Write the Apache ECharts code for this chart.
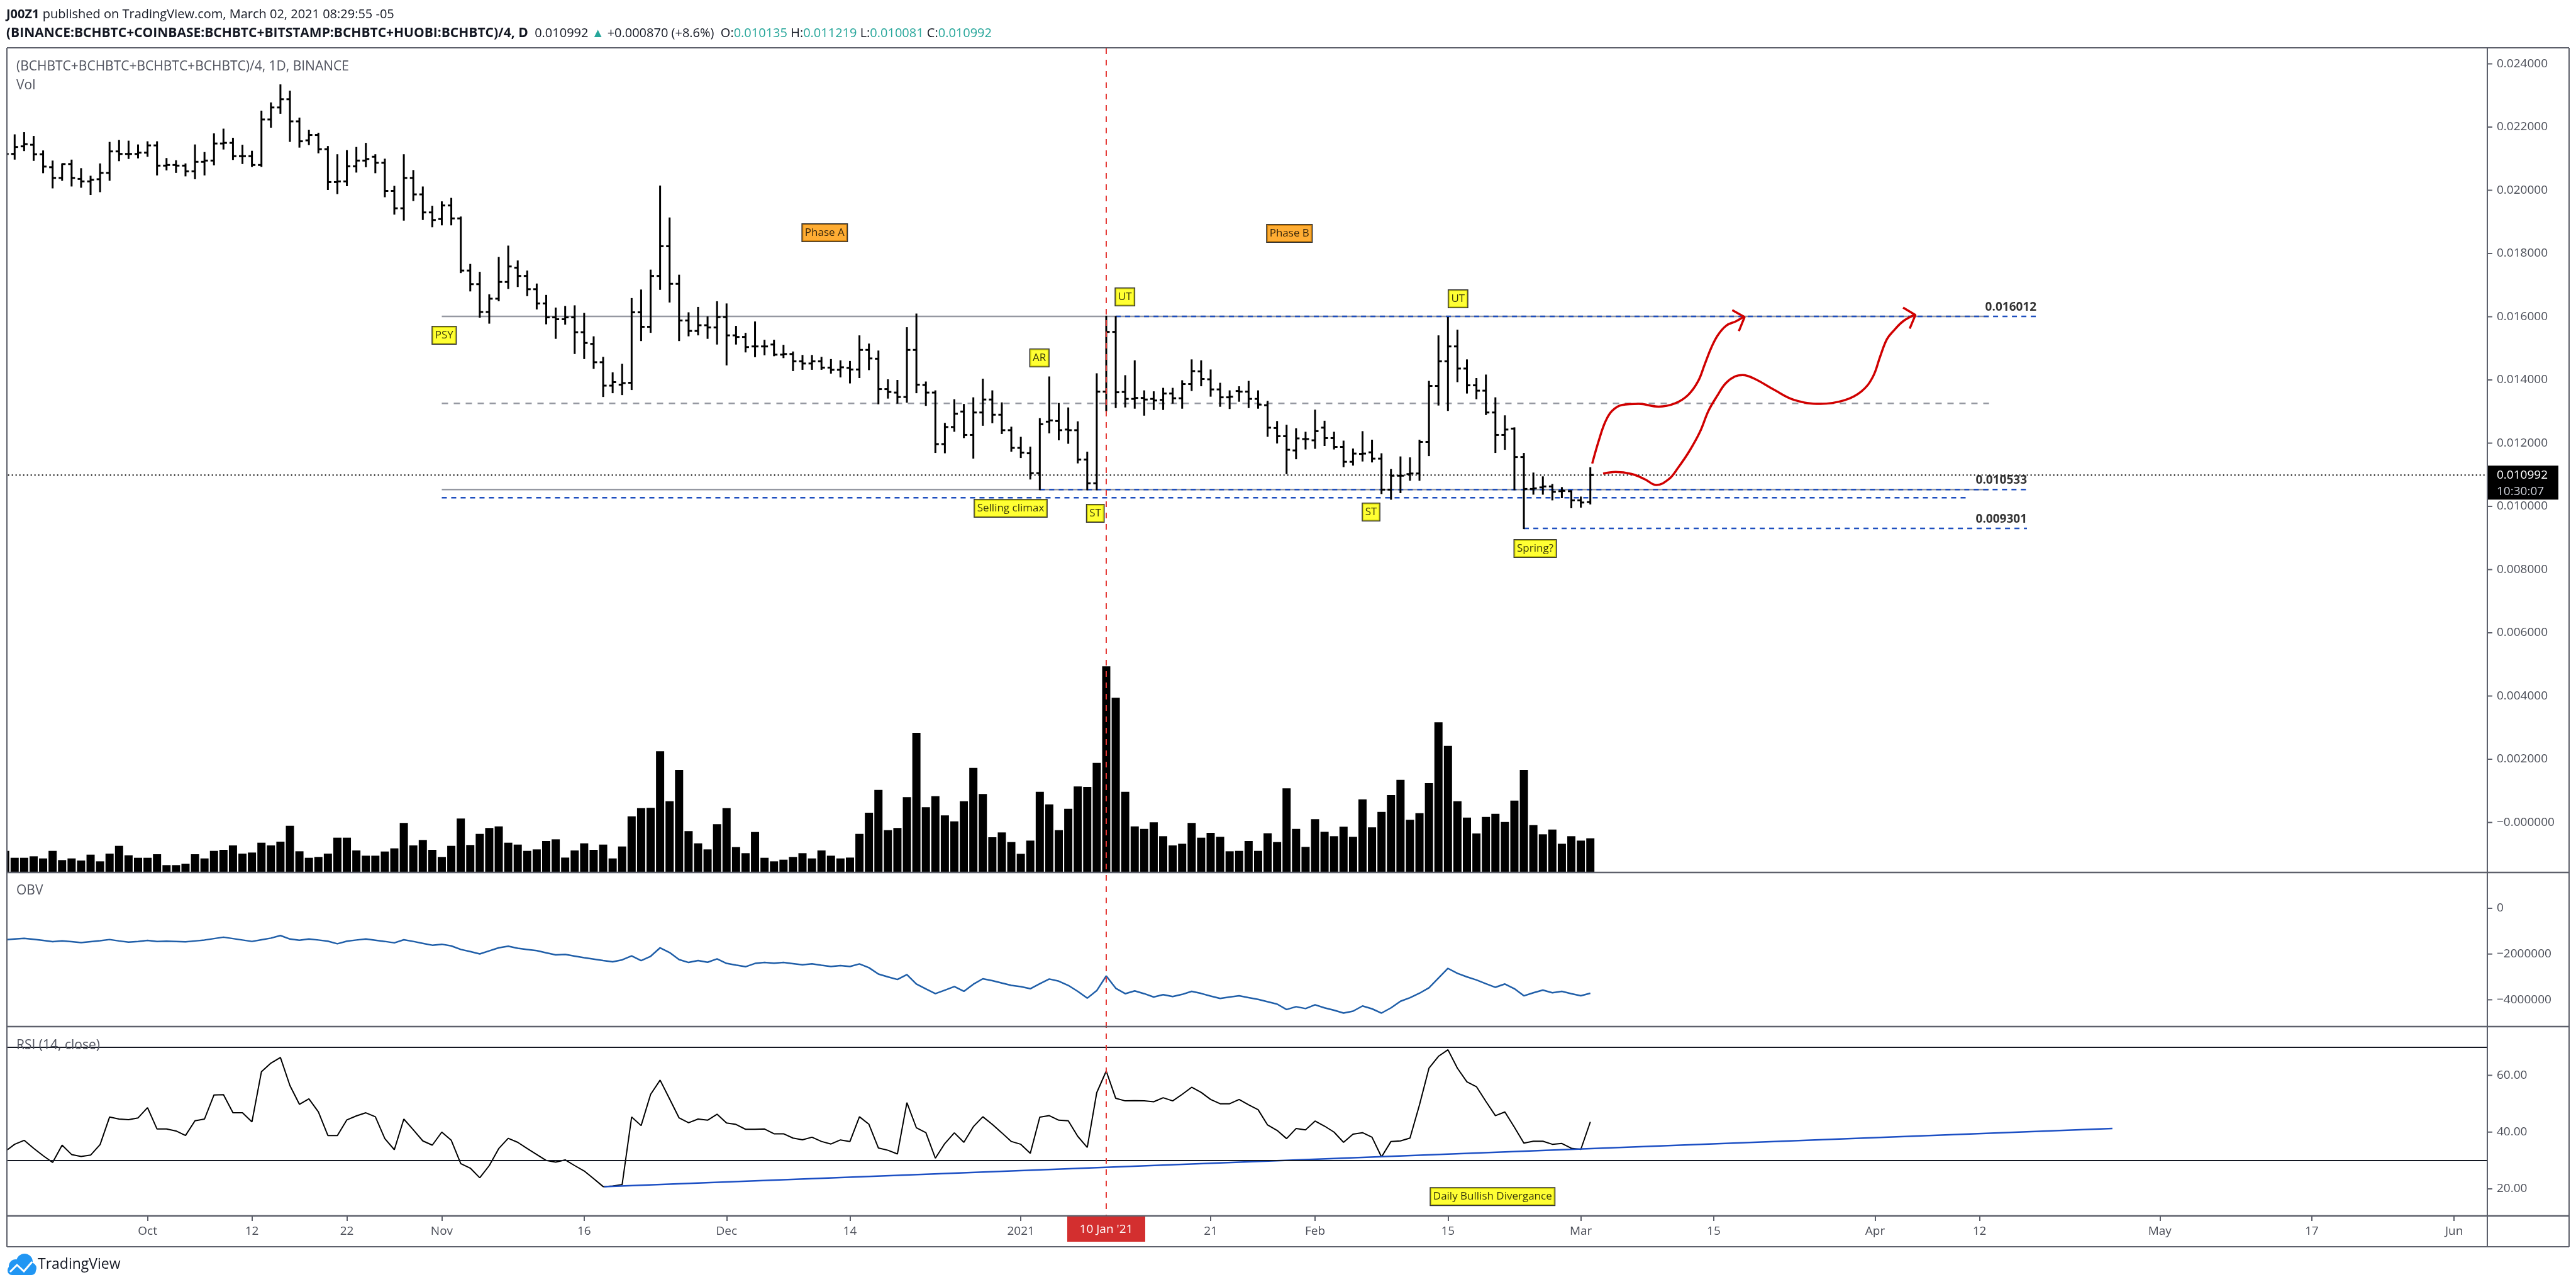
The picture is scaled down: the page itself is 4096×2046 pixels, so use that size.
<!DOCTYPE html>
<html><head><meta charset="utf-8">
<script src="https://cdn.jsdelivr.net/npm/echarts@6/dist/echarts.min.js"></script>
<style>html,body{margin:0;padding:0;background:#fff}#c{width:4096px;height:2046px}</style>
</head><body><div id="c"></div>
<script>
// ---------- DATA ----------
const START_DATE = Date.UTC(2020, 8, 16);   // first daily bar (2020-09-16)
const N_CATEGORIES = 262;                      // visible days on the time axis
const categories = [];
for (let i = 0; i < N_CATEGORIES; i++) categories.push(new Date(START_DATE + i * 86400000).toISOString().slice(0, 10));

const open = [0.02130,0.02115,0.02139,0.02144,0.02114,0.02073,0.02039,0.02083,0.02036,0.02028,
 0.02035,0.02055,0.02123,0.02115,0.02115,0.02119,0.02142,0.02078,0.02080,0.02078,
 0.02060,0.02090,0.02094,0.02148,0.02150,0.02108,0.02108,0.02080,0.02224,0.02262,
 0.02288,0.02218,0.02158,0.02175,0.02130,0.02026,0.02028,0.02076,0.02094,0.02106,
 0.02087,0.01998,0.01943,0.02039,0.01987,0.01930,0.01909,0.01952,0.01911,0.01746,
 0.01703,0.01615,0.01657,0.01710,0.01755,0.01729,0.01687,0.01642,0.01598,0.01592,
 0.01598,0.01551,0.01514,0.01456,0.01382,0.01385,0.01391,0.01614,0.01568,0.01729,
 0.01823,0.01704,0.01588,0.01555,0.01573,0.01566,0.01599,0.01541,0.01536,0.01506,
 0.01506,0.01512,0.01480,0.01482,0.01459,0.01452,0.01459,0.01439,0.01432,0.01438,
 0.01433,0.01495,0.01467,0.01371,0.01360,0.01346,0.01495,0.01384,0.01360,0.01197,
 0.01251,0.01300,0.01226,0.01297,0.01338,0.01290,0.01241,0.01185,0.01168,0.01105,
 0.01268,0.01270,0.01243,0.01241,0.01148,0.01073,0.01363,0.01552,0.01362,0.01340,
 0.01343,0.01340,0.01337,0.01357,0.01342,0.01387,0.01427,0.01402,0.01370,0.01345,
 0.01365,0.01363,0.01340,0.01320,0.01248,0.01222,0.01177,0.01213,0.01209,0.01249,
 0.01216,0.01188,0.01141,0.01166,0.01171,0.01151,0.01053,0.01097,0.01102,0.01104,
 0.01204,0.01381,0.01459,0.01506,0.01436,0.01383,0.01366,0.01297,0.01226,0.01246,
 0.01156,0.01055,0.01060,0.01063,0.01048,0.01048,0.01019,0.010135];
const high = [0.02160,0.02175,0.02182,0.02170,0.02124,0.02092,0.02083,0.02095,0.02068,0.02044,
 0.02083,0.02151,0.02157,0.02155,0.02143,0.02153,0.02153,0.02100,0.02093,0.02083,
 0.02143,0.02119,0.02178,0.02193,0.02164,0.02142,0.02123,0.02250,0.02276,0.02333,
 0.02313,0.02228,0.02189,0.02180,0.02138,0.02112,0.02125,0.02135,0.02148,0.02112,
 0.02098,0.02012,0.02112,0.02062,0.02010,0.01949,0.01963,0.01974,0.01915,0.01765,
 0.01740,0.01669,0.01787,0.01823,0.01776,0.01744,0.01703,0.01667,0.01627,0.01632,
 0.01634,0.01610,0.01536,0.01471,0.01422,0.01449,0.01657,0.01684,0.01747,0.02013,
 0.01912,0.01731,0.01612,0.01629,0.01599,0.01647,0.01640,0.01569,0.01547,0.01583,
 0.01525,0.01525,0.01509,0.01488,0.01477,0.01477,0.01471,0.01464,0.01460,0.01458,
 0.01539,0.01513,0.01491,0.01400,0.01398,0.01565,0.01608,0.01393,0.01365,0.01262,
 0.01337,0.01322,0.01343,0.01402,0.01365,0.01327,0.01250,0.01218,0.01187,0.01277,
 0.01409,0.01325,0.01311,0.01267,0.01171,0.01419,0.016012,0.01600,0.01413,0.01460,
 0.01365,0.01362,0.01373,0.01373,0.01397,0.01463,0.01460,0.01431,0.01389,0.01365,
 0.01378,0.01395,0.01365,0.01332,0.01268,0.01256,0.01245,0.01234,0.01304,0.01269,
 0.01234,0.01206,0.01181,0.01236,0.01209,0.01166,0.01116,0.01156,0.01153,0.01209,
 0.01395,0.01539,0.01597,0.01557,0.01463,0.01404,0.01415,0.01343,0.01286,0.01248,
 0.01167,0.01105,0.01093,0.01069,0.01059,0.01049,0.01029,0.011219];
const low = [0.02105,0.02099,0.02126,0.02095,0.02056,0.02008,0.02032,0.02014,0.02010,0.01987,
 0.01996,0.02032,0.02094,0.02101,0.02103,0.02108,0.02049,0.02065,0.02057,0.02046,
 0.02037,0.02049,0.02081,0.02131,0.02098,0.02085,0.02076,0.02076,0.02200,0.02244,
 0.02155,0.02137,0.02145,0.02119,0.02003,0.01990,0.02015,0.02058,0.02075,0.02056,
 0.01980,0.01925,0.01906,0.01968,0.01908,0.01885,0.01891,0.01891,0.01740,0.01682,
 0.01599,0.01580,0.01651,0.01690,0.01696,0.01667,0.01625,0.01578,0.01532,0.01577,
 0.01484,0.01468,0.01437,0.01348,0.01360,0.01354,0.01370,0.01525,0.01551,0.01687,
 0.01647,0.01525,0.01540,0.01543,0.01532,0.01514,0.01448,0.01514,0.01489,0.01474,
 0.01480,0.01477,0.01471,0.01430,0.01434,0.01434,0.01434,0.01422,0.01410,0.01391,
 0.01408,0.01433,0.01325,0.01343,0.01327,0.01330,0.01360,0.01320,0.01171,0.01170,
 0.01238,0.01218,0.01153,0.01257,0.01265,0.01231,0.01175,0.01155,0.01087,0.010533,
 0.01233,0.01211,0.01200,0.01138,0.01053,0.01053,0.01303,0.01313,0.01315,0.01311,
 0.01289,0.01307,0.01307,0.01327,0.01311,0.01367,0.01382,0.01349,0.01317,0.01310,
 0.01333,0.01313,0.01311,0.01222,0.01201,0.01104,0.01151,0.01182,0.01184,0.01193,
 0.01182,0.01126,0.01131,0.01144,0.01141,0.01041,0.01023,0.01044,0.01083,0.01083,
 0.01161,0.01321,0.01304,0.01395,0.01359,0.01341,0.01291,0.01171,0.01181,0.01053,
 0.009301,0.01039,0.01039,0.01021,0.01028,0.00996,0.00998,0.010081];
const close = [0.02115,0.02137,0.02146,0.02114,0.02075,0.02039,0.02083,0.02039,0.02028,0.02033,
 0.02055,0.02123,0.02115,0.02115,0.02119,0.02142,0.02078,0.02080,0.02078,0.02060,
 0.02090,0.02094,0.02148,0.02150,0.02108,0.02108,0.02080,0.02224,0.02262,0.02288,
 0.02218,0.02155,0.02175,0.02130,0.02026,0.02028,0.02076,0.02094,0.02099,0.02087,
 0.01998,0.01943,0.02039,0.01987,0.01930,0.01906,0.01952,0.01911,0.01746,0.01703,
 0.01615,0.01657,0.01710,0.01759,0.01729,0.01687,0.01642,0.01598,0.01592,0.01598,
 0.01551,0.01517,0.01456,0.01382,0.01393,0.01390,0.01614,0.01568,0.01729,0.01823,
 0.01704,0.01588,0.01555,0.01573,0.01566,0.01599,0.01541,0.01536,0.01504,0.01506,
 0.01506,0.01480,0.01482,0.01459,0.01452,0.01459,0.01439,0.01432,0.01440,0.01433,
 0.01495,0.01468,0.01371,0.01362,0.01346,0.01495,0.01385,0.01360,0.01197,0.01251,
 0.01293,0.01226,0.01297,0.01338,0.01290,0.01241,0.01185,0.01170,0.01105,0.01260,
 0.01272,0.01241,0.01241,0.01148,0.01073,0.01363,0.01552,0.01361,0.01340,0.01343,
 0.01338,0.01335,0.01357,0.01342,0.01387,0.01428,0.01403,0.01370,0.01345,0.01347,
 0.01363,0.01340,0.01322,0.01249,0.01222,0.01179,0.01215,0.01213,0.01238,0.01216,
 0.01188,0.01141,0.01167,0.01167,0.01151,0.01053,0.01097,0.01097,0.01104,0.01204,
 0.01381,0.01459,0.01506,0.01436,0.01383,0.01366,0.01297,0.01226,0.01243,0.01156,
 0.01055,0.01057,0.01063,0.01046,0.01049,0.01019,0.010122,0.010992];
const volume = [100,67,67,74,64,100,56,64,54,82, 50,87,124,79,67,67,84,32,32,39,
 84,64,100,105,126,87,92,139,126,144, 220,98,67,71,87,163,163,102,77,77,
 97,112,233,126,152,105,71,124,254,128, 181,209,217,139,130,100,107,147,155,68,
 102,136,105,130,64,121,265,304,305,575, 337,486,194,136,107,227,304,118,89,190,
 67,50,58,71,89,64,102,77,64,68, 181,282,391,199,209,356,663,308,361,269,
 241,337,496,371,165,188,142,86,149,382, 322,199,301,407,405,520,980,830,382,217,
 205,236,170,126,134,233,163,186,167,98, 100,147,100,184,142,398,205,119,251,191,
 170,215,167,346,212,286,366,439,248,280, 423,713,601,337,259,183,262,277,238,340,
 486,223,179,202,134,170,149,160];
const OBV_UNIT = 1000000;
const obvMillions = [-1.375,-1.344,-1.313,-1.355,-1.406,-1.458,-1.427,-1.458,-1.499,-1.458,
 -1.417,-1.365,-1.427,-1.479,-1.448,-1.406,-1.448,-1.437,-1.448,-1.468,
 -1.427,-1.386,-1.324,-1.262,-1.324,-1.386,-1.448,-1.375,-1.303,-1.189,
 -1.344,-1.396,-1.344,-1.386,-1.437,-1.551,-1.437,-1.386,-1.344,-1.396,
 -1.448,-1.510,-1.375,-1.448,-1.531,-1.613,-1.572,-1.644,-1.799,-1.892,
 -1.996,-1.861,-1.727,-1.655,-1.748,-1.799,-1.851,-1.944,-2.037,-2.017,
 -2.089,-2.161,-2.223,-2.285,-2.337,-2.254,-2.079,-2.285,-2.099,-1.727,
 -1.934,-2.244,-2.368,-2.285,-2.358,-2.213,-2.409,-2.482,-2.554,-2.409,
 -2.368,-2.399,-2.368,-2.420,-2.472,-2.430,-2.492,-2.544,-2.503,-2.544,
 -2.430,-2.596,-2.875,-2.999,-3.113,-2.896,-3.309,-3.526,-3.733,-3.578,
 -3.423,-3.630,-3.320,-3.082,-3.164,-3.268,-3.371,-3.423,-3.516,-3.299,
 -3.092,-3.185,-3.371,-3.630,-3.930,-3.599,-2.958,-3.495,-3.733,-3.609,
 -3.733,-3.878,-3.775,-3.857,-3.764,-3.630,-3.723,-3.837,-3.940,-3.878,
 -3.826,-3.909,-3.981,-4.085,-4.188,-4.426,-4.302,-4.385,-4.219,-4.354,
 -4.457,-4.581,-4.498,-4.271,-4.395,-4.581,-4.354,-4.064,-3.909,-3.713,
 -3.475,-3.051,-2.627,-2.844,-2.999,-3.133,-3.299,-3.454,-3.309,-3.516,
 -3.826,-3.692,-3.578,-3.692,-3.630,-3.733,-3.826,-3.713];
const rsi = [33.2,35.7,37.1,34.3,31.7,29.3,35.4,32.1,31.4,31.9,
 35.6,45.3,44.6,44.4,45.0,48.6,41.1,41.1,40.4,38.8,
 44.0,44.6,53.1,53.2,46.8,46.8,43.6,61.3,64.3,66.3,
 56.4,49.8,51.7,47.1,38.8,38.8,44.3,45.7,46.8,45.4,
 37.7,33.8,44.6,40.8,36.9,35.4,40.0,37.1,28.9,27.3,
 23.9,28.2,34.2,37.8,36.4,34.2,32.1,30.0,29.4,30.2,
 28.2,26.3,23.6,20.8,21.0,21.5,45.3,42.3,53.3,58.3,
 51.7,45.0,43.3,44.6,44.2,46.3,43.2,42.7,41.0,41.0,
 41.1,39.4,39.4,37.9,37.3,38.2,36.7,35.8,37.25,36.7,
 45.4,42.75,34.4,33.6,32.3,50.4,41.5,39.8,30.8,36.0,
 39.75,36.4,41.9,45.4,42.7,39.75,36.7,35.7,32.5,45.25,
 45.8,44.2,44.0,38.5,34.6,53.9,61.5,51.9,51.0,51.1,
 51.0,50.7,52.1,51.0,53.3,55.8,54.0,51.5,50.0,50.0,
 51.5,49.6,47.9,42.5,40.6,37.7,41.25,40.8,43.9,42.1,
 40.0,36.4,39.3,39.8,38.2,31.25,36.7,36.9,37.9,49.6,
 62.5,66.7,69.0,62.5,57.7,56.0,50.8,45.8,47.1,41.7,
 36.1,36.8,36.8,35.7,36.0,34.3,33.9,43.6];
const rsiBands = [70, 30];
const rsiTrendline = [[63.1, 20.8], [222, 41.3]];

// time axis tick labels
const timeTicks = [['2020-10-01','Oct'],['2020-10-12','12'],['2020-10-22','22'],['2020-11-01','Nov'],
 ['2020-11-16','16'],['2020-12-01','Dec'],['2020-12-14','14'],['2021-01-01','2021'],['2021-01-21','21'],
 ['2021-02-01','Feb'],['2021-02-15','15'],['2021-03-01','Mar'],['2021-03-15','15'],['2021-04-01','Apr'],
 ['2021-04-12','12'],['2021-05-01','May'],['2021-05-17','17'],['2021-06-01','Jun']];
const highlightDate = ['2021-01-10', "10 Jan '21"];

// horizontal levels: [price, from date, to date]
const greySolidLevels = [[0.016012,'2020-11-01','2021-04-13'],[0.010533,'2020-11-01','2021-04-13']];
const greyDashedLevels = [[0.01326,'2020-11-01','2021-04-13']];
const blueDashedLevels = [[0.016012,'2021-01-11','2021-04-18'],[0.010533,'2021-01-03','2021-04-17'],
 [0.010275,'2020-11-01','2021-04-11'],[0.009301,'2021-02-23','2021-04-17']];
const levelLabels = [[0.016012,'2021-04-18'],[0.010533,'2021-04-17'],[0.009301,'2021-04-17']];

// text annotations: [text, day offset, price]
const wyckoffLabels = [['PSY',46.25,0.015413],['AR',108.96,0.014697],['UT',117.97,0.016627],
 ['Selling climax',105.93,0.00994],['ST',114.85,0.009781],['UT',153.06,0.016567],
 ['ST',143.9,0.009821],['Spring?',161.19,0.008667]];
const phaseLabels = [['Phase A',86.34,0.018657],['Phase B',135.3,0.018637]];
const rsiNote = [['Daily Bullish Divergance',156.7,17.3]];

// hand drawn projection paths: [day offset, price]
const projection1 = [[167.2,0.011356],[167.9,0.01209],[168.6,0.01269],[169.3,0.013024],[170.35,0.01321],
 [172.1,0.013244],[174.2,0.013156],[175.9,0.013256],[177.3,0.013524],[178.35,0.013956],[179.05,0.01449],
 [179.75,0.015024],[180.45,0.015424],[181.35,0.015724],[182.35,0.015856],[183.1,0.01599]];
const arrowHead1 = [[181.95,0.01621],[183.25,0.01599],[182.65,0.015544]];
const projection2 = [[168.35,0.011036],[169.65,0.01109],[171.35,0.011024],[172.75,0.010856],[173.95,0.010676],
 [175.25,0.010856],[176.25,0.011224],[177.45,0.011756],[178.55,0.012356],[179.45,0.013024],[180.35,0.01349],
 [181.25,0.01389],[182.2,0.014104],[183.05,0.014156],[184.25,0.014044],[186.35,0.01369],[188.45,0.01337],
 [191.25,0.013244],[193.75,0.013356],[195.55,0.013636],[196.75,0.01409],[197.55,0.014756],[198.25,0.01529],
 [198.95,0.015556],[199.95,0.015856],[201.15,0.016056]];
const arrowHead2 = [[199.95,0.01629],[201.25,0.016056],[200.65,0.015624]];

// ---------- CHART ----------
const FONT = "'Open Sans', 'Liberation Sans', 'DejaVu Sans', sans-serif";
const AX = '#4a4d57';
const FRAME = '#5d606b';
const dayIndex = d => categories.indexOf(d);
const L = close.length - 1;
const ohlc = open.map((o, i) => [i, o, high[i], low[i], close[i]]);
const tickMap = new Map(timeTicks);

function renderOHLC(params, api) {
  const i = api.value(0);
  const pO = api.coord([i, api.value(1)]);
  const pH = api.coord([i, api.value(2)]);
  const pL = api.coord([i, api.value(3)]);
  const pC = api.coord([i, api.value(4)]);
  const st = {stroke: '#000', lineWidth: 3};
  return {type: 'group', children: [
    {type: 'line', shape: {x1: pH[0], y1: pH[1] - 1, x2: pL[0], y2: pL[1] + 1}, style: st},
    {type: 'line', shape: {x1: pO[0] - 5.5, y1: pO[1], x2: pO[0], y2: pO[1]}, style: st},
    {type: 'line', shape: {x1: pC[0], y1: pC[1], x2: pC[0] + 5.5, y2: pC[1]}, style: st}
  ]};
}

const GL = 0.655, GR = 141;
const catAxis = g => ({type: 'category', gridIndex: g, data: categories, show: false});
const levelSeries = (arr, style) => arr.map(l => ({
  type: 'line', xAxisIndex: 5, yAxisIndex: 0, silent: true, symbol: 'none', z: 1,
  data: [[dayIndex(l[1]), l[0]], [dayIndex(l[2]), l[0]]], lineStyle: style
}));
const labelStyle = bg => ({show: true, position: 'inside', formatter: '{b}', backgroundColor: bg,
  borderColor: '#000', borderWidth: 1.5, padding: [4, 4, 3, 4], color: '#000', fontSize: 17,
  fontFamily: FONT, lineHeight: 20});

const option = {
  animation: false,
  backgroundColor: '#fff',
  grid: [
    {left: GL, right: GR, top: 1, height: 1407},
    {left: GL, right: GR, top: 1052.7, height: 333.3},
    {left: GL, right: GR, top: 1371.3, height: 290.8},
    {left: GL, right: GR, top: 1619.25, height: 361},
    {left: GL, right: GR, top: 1932, height: 1}
  ],
  xAxis: [catAxis(0), catAxis(1), catAxis(2), catAxis(3),
    {type: 'category', gridIndex: 4, data: categories,
      axisLine: {show: false},
      axisTick: {show: true, alignWithLabel: true, length: 8, lineStyle: {color: FRAME, width: 2},
        interval: (i, v) => tickMap.has(v)},
      axisLabel: {interval: (i, v) => tickMap.has(v), formatter: v => tickMap.get(v) || '',
        color: AX, fontSize: 19, fontFamily: FONT, margin: 15}},
    {type: 'value', gridIndex: 0, min: -0.5, max: N_CATEGORIES - 0.5, show: false},
    {type: 'value', gridIndex: 3, min: -0.5, max: N_CATEGORIES - 0.5, show: false}
  ],
  yAxis: [
    {type: 'value', gridIndex: 0, position: 'right', min: -0.002, max: 0.026, interval: 0.002,
      splitLine: {show: false}, axisLine: {show: false}, axisTick: {show: false},
      axisLabel: {color: AX, fontSize: 19, fontFamily: FONT, margin: 15,
        formatter: v => (v < -0.001 || v > 0.0245) ? '' : (Math.abs(v) < 1e-9 ? '\u22120.000000' : v.toFixed(6))}},
    {type: 'value', gridIndex: 1, min: 0, max: 1000, show: false, splitLine: {show: false}},
    {type: 'value', gridIndex: 2, position: 'right', min: -6000000, max: 2000000, interval: 2000000,
      splitLine: {show: false}, axisLine: {show: false}, axisTick: {show: false},
      axisLabel: {color: AX, fontSize: 19, fontFamily: FONT, margin: 15,
        formatter: v => (v > 1e6 || v < -5e6) ? '' : (v === 0 ? '0' : '\u2212' + Math.abs(v).toFixed(0))}},
    {type: 'value', gridIndex: 3, position: 'right', min: 0, max: 80, interval: 20,
      splitLine: {show: false}, axisLine: {show: false}, axisTick: {show: false},
      axisLabel: {color: AX, fontSize: 19, fontFamily: FONT, margin: 15,
        formatter: v => (v < 10 || v > 70) ? '' : v.toFixed(2)}},
    {type: 'value', gridIndex: 4, show: false}
  ],
  series: [
    ...levelSeries(greySolidLevels, {color: '#9598a1', width: 2.5, type: 'solid'}),
    ...levelSeries(greyDashedLevels, {color: '#9598a1', width: 2.5, type: [10, 9]}),
    ...levelSeries(blueDashedLevels, {color: '#1e4fbf', width: 2.5, type: [8, 7]}),
    {type: 'line', xAxisIndex: 5, yAxisIndex: 0, silent: true, symbol: 'none', z: 1,
      data: [[-0.5, close[L]], [N_CATEGORIES - 0.5, close[L]]], lineStyle: {color: '#000', width: 2, type: [2, 4]}},
    {type: 'custom', name: 'OHLC', xAxisIndex: 0, yAxisIndex: 0, data: ohlc,
      encode: {x: 0, y: [1, 2, 3, 4]}, renderItem: renderOHLC, z: 3},
    {type: 'bar', name: 'Vol', xAxisIndex: 1, yAxisIndex: 1, data: volume, barWidth: '86%',
      itemStyle: {color: '#000'}},
    {type: 'line', name: 'OBV', xAxisIndex: 2, yAxisIndex: 2, data: obvMillions.map(v => Math.round(v * OBV_UNIT)),
      symbol: 'none', lineStyle: {color: '#1f5ea8', width: 2.5}},
    {type: 'line', name: 'RSI', xAxisIndex: 3, yAxisIndex: 3, data: rsi, symbol: 'none',
      lineStyle: {color: '#000', width: 2},
      markLine: {silent: true, symbol: ['none', 'none'], label: {show: false},
        lineStyle: {color: '#131722', width: 2, type: 'solid'}, data: rsiBands.map(b => ({yAxis: b}))}},
    {type: 'line', xAxisIndex: 6, yAxisIndex: 3, data: rsiTrendline, symbol: 'none', silent: true,
      lineStyle: {color: '#1c4fc4', width: 2.5}},
    {type: 'line', xAxisIndex: 5, yAxisIndex: 0, data: projection1, symbol: 'none', smooth: 0.4, silent: true,
      lineStyle: {color: '#d00000', width: 3.5}, z: 4},
    {type: 'line', xAxisIndex: 5, yAxisIndex: 0, data: arrowHead1, symbol: 'none', silent: true,
      lineStyle: {color: '#d00000', width: 3.5}, z: 4},
    {type: 'line', xAxisIndex: 5, yAxisIndex: 0, data: projection2, symbol: 'none', smooth: 0.4, silent: true,
      lineStyle: {color: '#d00000', width: 3.5}, z: 4},
    {type: 'line', xAxisIndex: 5, yAxisIndex: 0, data: arrowHead2, symbol: 'none', silent: true,
      lineStyle: {color: '#d00000', width: 3.5}, z: 4},
    {type: 'scatter', xAxisIndex: 5, yAxisIndex: 0, symbolSize: 0, silent: true, z: 6,
      data: levelLabels.map(l => ({name: l[0].toFixed(6), value: [dayIndex(l[1]), l[0]]})),
      label: {show: true, position: 'top', align: 'right', distance: 5, formatter: '{b}', color: '#000',
        fontWeight: 'bold', fontSize: 19, fontFamily: FONT}},
    {type: 'scatter', xAxisIndex: 5, yAxisIndex: 0, symbolSize: 0, silent: true, z: 6,
      data: wyckoffLabels.map(a => ({name: a[0], value: [a[1], a[2]]})), label: labelStyle('#ffff00')},
    {type: 'scatter', xAxisIndex: 5, yAxisIndex: 0, symbolSize: 0, silent: true, z: 6,
      data: phaseLabels.map(a => ({name: a[0], value: [a[1], a[2]]})), label: labelStyle('#ff9800')},
    {type: 'scatter', xAxisIndex: 6, yAxisIndex: 3, symbolSize: 0, silent: true, z: 6,
      data: rsiNote.map(a => ({name: a[0], value: [a[1], a[2]]})), label: labelStyle('#ffff00')}
  ]
};

const chart = echarts.init(document.getElementById('c'), null, {renderer: 'canvas', width: 4096, height: 2046});
chart.setOption(option);

// ---------- overlay graphics (frame, header, tags) ----------
const xRed = chart.convertToPixel({xAxisIndex: 0}, dayIndex(highlightDate[0]));
const yLast = chart.convertToPixel({yAxisIndex: 0}, close[L]);
const AXIS_X = 3955, LEFT_X = 11, RIGHT_X = 4085, TOP_Y = 76, BOT_Y = 1982;
const g = [];
const line = (x1, y1, x2, y2, stroke, w, dash, z) => g.push({type: 'line', silent: true, z: z || 60,
  shape: {x1, y1, x2, y2}, style: {stroke, lineWidth: w, lineDash: dash || null}});
const text = (x, y, t, opts) => g.push({type: 'text', silent: true, z: 70, x, y,
  style: Object.assign({text: t, fill: '#131722', fontSize: 20, fontFamily: FONT, verticalAlign: 'middle', align: 'left'}, opts || {})});

g.push({type: 'rect', silent: true, z: 55, shape: {x: 0, y: 60, width: LEFT_X - 1, height: 1940}, style: {fill: '#fff'}});
// frame + separators
line(LEFT_X, TOP_Y, RIGHT_X, TOP_Y, FRAME, 2);
line(LEFT_X, TOP_Y, LEFT_X, BOT_Y, FRAME, 2);
line(RIGHT_X, TOP_Y, RIGHT_X, BOT_Y, FRAME, 2);
line(LEFT_X, BOT_Y, RIGHT_X, BOT_Y, FRAME, 2);
line(AXIS_X, TOP_Y, AXIS_X, BOT_Y, FRAME, 2);
[1387, 1632, 1933].forEach(y => line(LEFT_X, y, RIGHT_X, y, FRAME, 2.5));
// y-axis ticks
for (let k = 0; k <= 12; k++) { const y = chart.convertToPixel({yAxisIndex: 0}, k * 0.002); line(AXIS_X, y, AXIS_X + 8, y, FRAME, 2); }
[0, -2000000, -4000000].forEach(v => { const y = chart.convertToPixel({yAxisIndex: 2}, v); line(AXIS_X, y, AXIS_X + 8, y, FRAME, 2); });
[20, 40, 60].forEach(v => { const y = chart.convertToPixel({yAxisIndex: 3}, v); line(AXIS_X, y, AXIS_X + 8, y, FRAME, 2); });
// red vertical marker
line(xRed, TOP_Y + 1, xRed, 1933, '#e53935', 2, [9, 9], 58);
g.push({type: 'rect', silent: true, z: 70, shape: {x: xRed - 62, y: 1934, width: 124, height: 40}, style: {fill: '#d32f2f'}});
text(xRed, 1955, highlightDate[1], {fill: '#ffffff', fontSize: 19, align: 'center'});
// header
const chg = close[L] - close[L - 1];
const pct = chg / close[L - 1] * 100;
text(10, 23, '{b|J00Z1} published on TradingView.com, March 02, 2021 08:29:55 -05',
  {rich: {b: {fontWeight: 'bold', fontSize: 20, fontFamily: FONT, fill: '#131722'}}});
text(10, 53, '{b|(BINANCE:BCHBTC+COINBASE:BCHBTC+BITSTAMP:BCHBTC+HUOBI:BCHBTC)/4, D}  ' + close[L].toFixed(6) +
  ' {t|\u25B2} +' + chg.toFixed(6) + ' (+' + pct.toFixed(1) + '%)  O:{t|' + open[L].toFixed(6) + '} H:{t|' +
  high[L].toFixed(6) + '} L:{t|' + low[L].toFixed(6) + '} C:{t|' + close[L].toFixed(6) + '}',
  {rich: {b: {fontWeight: 'bold', fontSize: 21, fontFamily: FONT, fill: '#131722'},
          t: {fontSize: 20, fontFamily: FONT, fill: '#26a69a'}}});
// pane titles
text(26, 106, '(BCHBTC+BCHBTC+BCHBTC+BCHBTC)/4, 1D, BINANCE', {fill: '#50535e', fontSize: 21});
text(26, 136, 'Vol', {fill: '#50535e', fontSize: 21});
text(26, 1416, 'OBV', {fill: '#50535e', fontSize: 21});
text(26, 1662, 'RSI (14, close)', {fill: '#50535e', fontSize: 21});
// last price tag
g.push({type: 'rect', silent: true, z: 70, shape: {x: AXIS_X + 1, y: yLast - 15, width: 112, height: 54}, style: {fill: '#000'}});
text(AXIS_X + 15, yLast, close[L].toFixed(6), {fill: '#ffffff', fontSize: 19});
text(AXIS_X + 15, yLast + 26, '10:30:07', {fill: '#d1d4dc', fontSize: 19});
// TradingView logo
const B = '#2196f3';
g.push({type: 'circle', silent: true, z: 70, shape: {cx: 25, cy: 2013, r: 11}, style: {fill: B}});
g.push({type: 'circle', silent: true, z: 70, shape: {cx: 39, cy: 2006, r: 13}, style: {fill: B}});
g.push({type: 'circle', silent: true, z: 70, shape: {cx: 49, cy: 2016, r: 9}, style: {fill: B}});
g.push({type: 'rect', silent: true, z: 70, shape: {x: 12, y: 2012, width: 45, height: 15, r: 7}, style: {fill: B}});
g.push({type: 'polyline', silent: true, z: 71, shape: {points: [[16, 2022], [27, 2011], [38, 2021], [51, 2006]]},
  style: {stroke: '#fff', lineWidth: 3, fill: null}});
text(60, 2010, 'TradingView', {fontSize: 23, fill: '#131722'});

chart.setOption({graphic: g});
</script></body></html>
